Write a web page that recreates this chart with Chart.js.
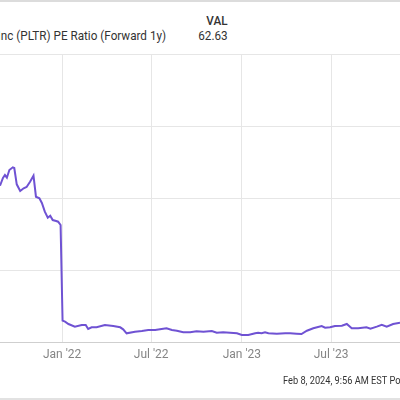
<!DOCTYPE html>
<html>
<head>
<meta charset="utf-8">
<script src="https://cdn.jsdelivr.net/npm/chart.js@4"></script>
<style>
  html, body { margin: 0; padding: 0; background: #fff; }
  body { width: 400px; height: 400px; position: relative; overflow: hidden; font-family: Roboto, "Noto Sans", sans-serif; color: #333; }
  .top-rule { position: absolute; left: 0; top: 0; width: 400px; height: 2px; background: #dcdcdc; }
  .bottom-rule { position: absolute; left: 0; top: 398px; width: 400px; height: 2px; background: #e2e2e2; }
  .narrow { transform: scaleX(0.9); transform-origin: right center; }
  .title { position: absolute; right: 234px; top: 28px; font-size: 13px; white-space: nowrap; }
  .val-head { position: absolute; right: 172px; top: 13px; font-size: 13px; font-weight: 500; }
  .val { position: absolute; right: 172px; top: 28px; font-size: 13px; }
  .footer { position: absolute; left: 283px; top: 374px; font-size: 11px; white-space: nowrap; transform: scaleX(0.84); transform-origin: left center; }
  .chart-box { position: absolute; left: 0; top: 0; width: 400px; height: 400px; }
</style>
</head>
<body>
<div class="top-rule"></div>
<div class="title narrow">Palantir Technologies Inc (PLTR) PE Ratio (Forward 1y)</div>
<div class="val-head narrow">VAL</div>
<div class="val narrow">62.63</div>
<div class="chart-box"><canvas id="pe-chart"></canvas></div>
<div class="footer">Feb 8, 2024, 9:56 AM EST Powered by YCHARTS</div>
<div class="bottom-rule"></div>
<script>
// Days counted from 1 Jan 2022
const days = [
  -126, -120, -116, -112, -107, -100, -97, -92, -85, -78, -72, -65, -58,
  -53, -46, -41, -35, -29, -24, -19, -12, -8, -3,
  1, 6, 13, 26, 40, 48, 53, 60, 70, 87, 104, 118, 124, 131, 148, 162,
  175, 189, 202, 212, 223, 233, 246, 260, 273, 287, 304, 314, 327, 341,
  355, 365, 378, 392, 398, 405, 412, 419, 436, 453, 463, 476, 486, 497,
  510, 527, 534, 544, 554, 568, 578, 588, 601, 618, 626, 639, 649, 659,
  672, 686
];
const peValues = [
  217.1, 227.8, 231.9, 228.2, 238.9, 242.6, 241.7, 219.0, 209.7, 213.5, 215.3, 222.6, 231.0,
  201.8, 199.6, 193.1, 181.0, 172.6, 175.4, 169.4, 168.1, 167.1, 162.5,
  29.6, 28.2, 25.0, 21.3, 23.6, 23.6, 18.1, 20.4, 20.4, 23.6, 22.2, 20.4, 17.6, 12.1, 14.3, 15.3,
  16.7, 16.7, 18.1, 19.0, 16.7, 15.7, 13.5, 13.5, 14.9, 14.3, 15.3, 12.9, 13.5, 12.9,
  12.1, 9.7, 9.7, 12.1, 12.9, 12.1, 13.5, 12.1, 11.5, 12.1, 12.1, 11.5, 11.1, 15.7,
  19.0, 22.2, 19.9, 20.4, 22.2, 22.6, 25.0, 19.0, 19.0, 20.4, 18.5, 21.3, 24.0, 21.3,
  25.0, 26.8
];

const tickDays = [0, 181, 365, 546];
const tickLabels = ["Jan '22", "Jul '22", "Jan '23", "Jul '23"];

const lineColor = "#6f52d3";
const gridColor = "#e6e6e6";

const points = days.map((d, i) => ({ x: d, y: peValues[i] }));

const ctx = document.getElementById("pe-chart").getContext("2d");
const peChart = new Chart(ctx, {
  type: "line",
  data: {
    datasets: [
      {
        label: "PE Ratio (Forward 1y)",
        data: points,
        borderColor: lineColor,
        borderWidth: 2,
        pointRadius: 0,
        tension: 0,
        fill: false,
      },
    ],
  },
  options: {
    responsive: true,
    maintainAspectRatio: false,
    animation: false,
    layout: { padding: { top: 54, left: 0, right: 0, bottom: 0 } },
    plugins: {
      legend: { display: false },
      tooltip: { enabled: false },
    },
    scales: {
      x: {
        type: "linear",
        min: -126,
        max: 686,
        afterBuildTicks: function (scale) {
          scale.ticks = tickDays.map((v) => ({ value: v }));
        },
        afterFit: function (scale) {
          scale.height = 58;
        },
        grid: {
          color: gridColor,
          drawTicks: false,
        },
        border: { color: "#cfcfcf" },
        ticks: {
          color: "#858585",
          padding: 6,
          maxRotation: 0,
          font: { family: "Roboto", size: 12 },
          callback: function (value) {
            const i = tickDays.indexOf(value);
            return i >= 0 ? tickLabels[i] : "";
          },
        },
      },
      y: {
        type: "linear",
        min: 0,
        max: 400,
        afterFit: function (scale) {
          scale.width = 0;
        },
        grid: {
          color: gridColor,
          drawTicks: false,
        },
        border: { display: false },
        ticks: {
          display: false,
          stepSize: 100,
        },
      },
    },
  },
});
</script>
</body>
</html>
